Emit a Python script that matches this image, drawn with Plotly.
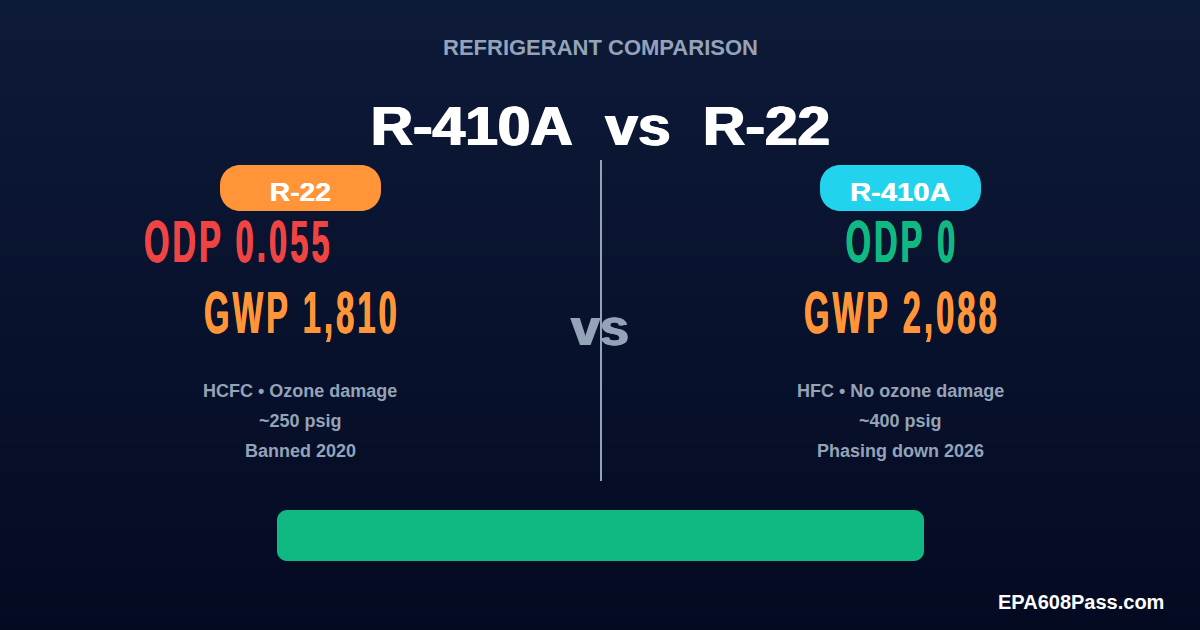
import json
import plotly.graph_objects as go

kicker = "REFRIGERANT COMPARISON"
headline = "R-410A\u00a0\u00a0vs\u00a0\u00a0R-22"
names = ["R-22", "R-410A"]
name_colors = ["#FF9538", "#22D3EE"]
odp_labels = ["ODP 0.055", "ODP 0"]
odp_colors = ["#EF4444", "#10B981"]
gwp_labels = ["GWP 1,810", "GWP 2,088"]
details = [["HCFC • Ozone damage", "~250 psig", "Banned 2020"],
           ["HFC • No ozone damage", "~400 psig", "Phasing down 2026"]]
footer = "EPA608Pass.com"
centers = [300, 900]
odp_x = [238.5, 901.5]
W, H = 1200, 630
GREY = "#94A3B8"
ORANGE = "#FF9538"
SANS = "Liberation Sans, Arial, sans-serif"


def rrect(x0, y0, x1, y1, r):
    k = r * 0.4477
    return (f"M{x0+r},{y0} L{x1-r},{y0} C{x1-k},{y0} {x1},{y0+k} {x1},{y0+r} L{x1},{y1-r} "
            f"C{x1},{y1-k} {x1-k},{y1} {x1-r},{y1} L{x0+r},{y1} C{x0+k},{y1} {x0},{y1-k} {x0},{y1-r} "
            f"L{x0},{y0+r} C{x0},{y0+k} {x0+k},{y0} {x0+r},{y0} Z")


fig = go.Figure()
fig.add_trace(go.Heatmap(
    x=[0, W], y=[0, H], z=[[0, 0], [1, 1]], zsmooth="best", showscale=False, hoverinfo="skip",
    colorscale=[[0, "#0D1A38"], [1, "#040A22"]],
))

shapes = []
annots = []


def text(x, y, s, size, color, anchor="center", shadow=None):
    f = dict(size=size, color=color, family=SANS, weight="bold")
    if shadow:
        f["shadow"] = shadow
    annots.append(dict(x=x, y=y, text=s, showarrow=False, xanchor=anchor, yanchor="middle", font=f,
                       xref="x", yref="y", borderpad=0))


thick = "1px 0 0 {c}, -1px 0 0 {c}"
thin = "0.5px 0 0 {c}, -0.5px 0 0 {c}"
text(600, 47, kicker, 22, GREY)
text(600, 125, headline, 56, "#FFFFFF", shadow=thick.format(c="#FFFFFF"))

shapes.append(dict(type="line", x0=601, x1=601, y0=160, y1=481, line=dict(color=GREY, width=2), layer="above"))
text(600, 327, "vs", 52, GREY, shadow=thick.format(c=GREY))

for i, c in enumerate(centers):
    shapes.append(dict(type="path", path=rrect(c - 80, 165, c + 81, 211, 20), fillcolor=name_colors[i],
                       line=dict(width=0), layer="above"))
    text(c, 192, names[i], 25, "#FFFFFF", shadow="0.5px 0 0 #FFFFFF")
    text(odp_x[i], 242, odp_labels[i], 59, odp_colors[i], shadow=thin.format(c=odp_colors[i]))
    text(c + 1.5, 313, gwp_labels[i], 59, ORANGE, shadow=thin.format(c=ORANGE))
    for j, line in enumerate(details[i]):
        text(c + (0 if i == 0 else 0.5), 391 + 30 * j, line, 18, GREY)

shapes.append(dict(type="path", path=rrect(277, 510, 924, 561, 10), fillcolor="#10B981",
                   line=dict(width=0), layer="above"))
text(1165, 602, footer, 20, "#FFFFFF", anchor="right")

fig.update_layout(
    width=W, height=H, margin=dict(l=0, r=0, t=0, b=0), showlegend=False,
    paper_bgcolor="#0A1433", plot_bgcolor="#0A1433",
    xaxis=dict(range=[0, W], visible=False, fixedrange=True),
    yaxis=dict(range=[H, 0], visible=False, fixedrange=True),
    shapes=shapes, annotations=annots,
)

# horizontal squeeze / stretch of the real text nodes (no condensed face is installed)
stretch = {s: [0.55, 5.8] for s in odp_labels + gwp_labels}
stretch[headline] = [1.047, 0]
stretch[names[0]] = [1.13, 0]
stretch[names[1]] = [1.17, 0]
post = """
document.body.style.margin = '0';
var S = %s;
document.querySelectorAll('text.annotation-text').forEach(function (t) {
  var k = S[t.textContent];
  if (!k) return;
  if (k[1]) t.style.letterSpacing = k[1] + 'px';
  var b = t.getBBox(), cx = b.x + b.width / 2;
  t.setAttribute('transform', 'translate(' + cx + ',0) scale(' + k[0] + ',1) translate(' + (-cx) + ',0)');
});
""" % json.dumps(stretch)
fig.write_html("out.html", config=dict(displayModeBar=False), post_script=post)
